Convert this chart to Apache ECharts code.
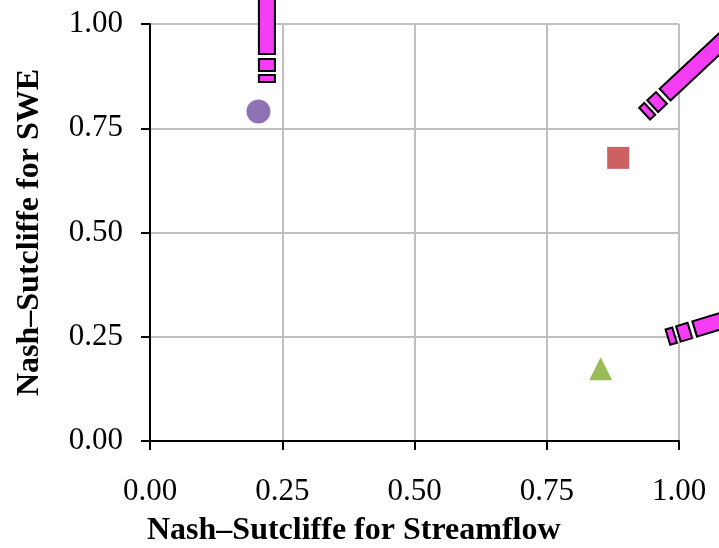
<!DOCTYPE html>
<html>
<head>
<meta charset="utf-8">
<script src="https://cdn.jsdelivr.net/npm/echarts@6/dist/echarts.min.js"></script>
<style>html,body{margin:0;padding:0;background:#fff}#c{width:719px;height:548px}</style>
</head>
<body>
<div id="c"></div>
<script>
// Data
const xTitle = 'Nash–Sutcliffe for Streamflow';
const yTitle = 'Nash–Sutcliffe for SWE';
const pointX = [0.205, 0.885, 0.852];
const pointY = [0.790, 0.679, 0.173];
const pointSymbols = ['circle', 'rect', 'triangle'];
const pointSizes = [24, 22, 23];
const pointColors = ['#8e72b5', '#cd6060', '#9bbb59'];
// Arrow tails (start of the dashed tail, in data units) and direction in degrees
const arrowX = [0.221, 0.935, 0.979];
const arrowY = [0.861, 0.785, 0.249];
const arrowAngle = [90, 43, 17];

const chart = echarts.init(document.getElementById('c'));
const font = '"Liberation Serif", "Times New Roman", serif';

const segs = [[0, 7], [11, 23], [28, 400]];
const W = 16;
function renderArrow(params, api) {
  const p = api.coord([api.value(0), api.value(1)]);
  const a = api.value(2) * Math.PI / 180;
  const dx = Math.cos(a), dy = -Math.sin(a);
  const nx = Math.sin(a) * W / 2, ny = Math.cos(a) * W / 2;
  const children = segs.map(s => {
    const x0 = p[0] + dx * s[0], y0 = p[1] + dy * s[0];
    const x1 = p[0] + dx * s[1], y1 = p[1] + dy * s[1];
    return {
      type: 'polygon',
      shape: { points: [[x0 + nx, y0 + ny], [x1 + nx, y1 + ny], [x1 - nx, y1 - ny], [x0 - nx, y0 - ny]] },
      style: { fill: '#f53cf5', stroke: '#000', lineWidth: 2 }
    };
  });
  return { type: 'group', children };
}

const series = pointX.map((x, i) => ({
  type: 'scatter',
  data: [[x, pointY[i]]],
  symbol: pointSymbols[i],
  symbolSize: pointSizes[i],
  itemStyle: { color: pointColors[i], opacity: 1 },
  z: 3
}));
series.push({
  type: 'custom',
  renderItem: renderArrow,
  clip: false,
  data: arrowX.map((x, i) => [x, arrowY[i], arrowAngle[i]]),
  z: 5,
  silent: true
});

chart.setOption({
  animation: false,
  title: {
    text: xTitle,
    left: 147,
    top: 515,
    padding: 0,
    textStyle: { fontFamily: font, fontSize: 32, fontWeight: 'bold', color: '#000' }
  },
  grid: { left: 150, right: 40, top: 24, bottom: 107 },
  xAxis: {
    type: 'value', min: 0, max: 1, interval: 0.25,
    axisLine: { show: true, onZero: false, lineStyle: { color: '#000', width: 2 } },
    axisTick: { show: true, length: 9, lineStyle: { color: '#000', width: 2 } },
    axisLabel: { fontFamily: font, fontSize: 31, color: '#000', margin: 35, formatter: v => v.toFixed(2) },
    splitLine: { show: true, lineStyle: { color: '#c0c0c0', width: 2 } }
  },
  yAxis: {
    type: 'value', min: 0, max: 1, interval: 0.25,
    name: yTitle, nameLocation: 'middle', nameRotate: 90, nameGap: 104,
    nameTextStyle: { fontFamily: font, fontSize: 32, fontWeight: 'bold', color: '#000' },
    axisLine: { show: true, onZero: false, lineStyle: { color: '#000', width: 2 } },
    axisTick: { show: true, length: 9, lineStyle: { color: '#000', width: 2 } },
    axisLabel: { fontFamily: font, fontSize: 31, color: '#000', margin: 27, formatter: v => v.toFixed(2) },
    splitLine: { show: true, lineStyle: { color: '#c0c0c0', width: 2 } }
  },
  series
});
</script>
</body>
</html>
